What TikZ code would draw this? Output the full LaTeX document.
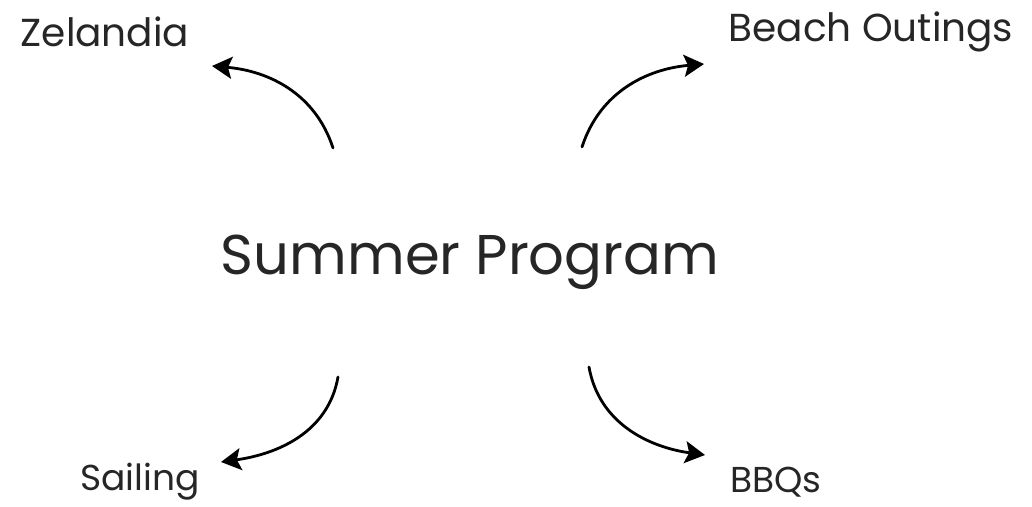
\documentclass[tikz,border=0pt]{standalone}
\usepackage{fontspec}
\setmainfont{Poppins}
\usetikzlibrary{arrows.meta}
\tikzset{
  lbl/.style={font=\fontsize{36}{40}\selectfont, inner sep=0pt, text=black!85},
  toplbl/.style={font=\fontsize{39}{43}\selectfont, inner sep=0pt, text=black!85},
  big/.style={font=\fontsize{56}{60}\selectfont, inner sep=0pt, text=black!85},
  arr/.style={line width=2.8pt, line cap=round, -{Stealth[length=20pt,width=22pt,inset=4pt]}}
}
\begin{document}
\begin{tikzpicture}[x=1pt,y=1pt]
\useasboundingbox (0,0) rectangle (1032,506);
\node[big] (center) at (470,244) {Summer Program};
\node[toplbl] (zel) at (105,474) {Zelandia};
\node[toplbl] (beach) at (871,474) {Beach Outings};
\node[lbl] (sail) at (140,24) {Sailing};
\node[lbl] (bbq) at (776,24) {BBQs};
\coordinate (t1) at (333,358); \coordinate (h1) at (212,440);
\coordinate (t2) at (582,359); \coordinate (h2) at (704,442);
\coordinate (t3) at (338,129); \coordinate (h3) at (221,44);
\coordinate (t4) at (589,139); \coordinate (h4) at (705,51);
\draw[arr] (t1) to[out=108,in=-5] (h1);
\draw[arr] (t2) to[out=72,in=185] (h2);
\draw[arr] (t3) to[out=-100,in=8] (h3);
\draw[arr] (t4) to[out=-80,in=172] (h4);
\end{tikzpicture}
\end{document}
